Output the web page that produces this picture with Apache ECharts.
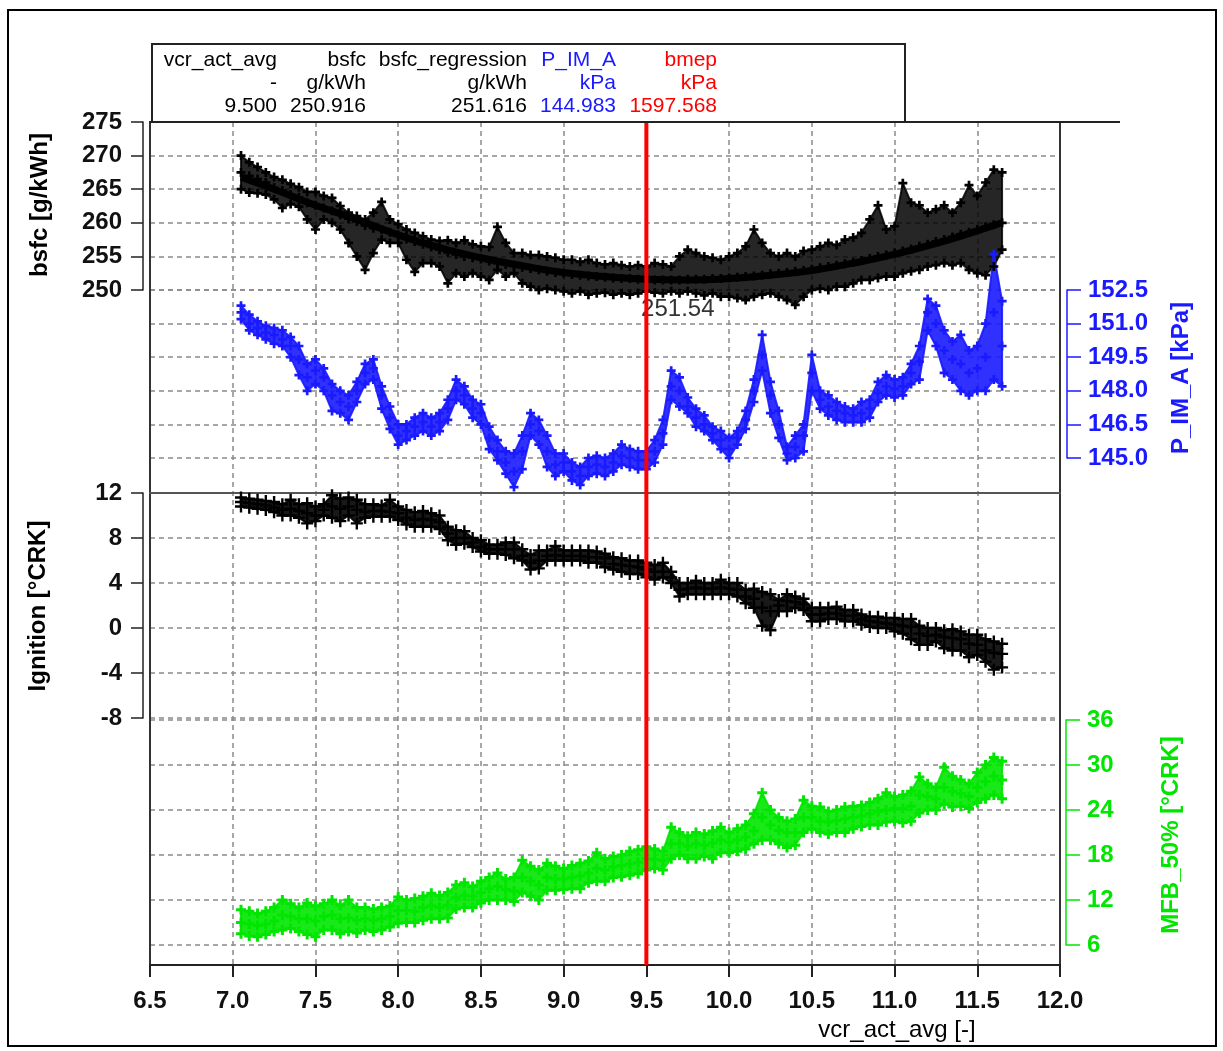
<!DOCTYPE html>
<html><head><meta charset="utf-8">
<script src="https://cdn.jsdelivr.net/npm/echarts@6/dist/echarts.min.js"></script>
<style>html,body{margin:0;padding:0;background:#fff;}#c{width:1223px;height:1051px;}</style>
</head><body><div id="c"></div>
<script>
// ---------- DATA ----------
const xs = [7.05,7.10,7.15,7.20,7.25,7.30,7.35,7.40,7.45,7.50,7.55,7.60,7.65,7.70,7.75,7.80,7.85,7.90,7.95,8.00,
8.05,8.10,8.15,8.20,8.25,8.30,8.35,8.40,8.45,8.50,8.55,8.60,8.65,8.70,8.75,8.80,8.85,8.90,8.95,9.00,
9.05,9.10,9.15,9.20,9.25,9.30,9.35,9.40,9.45,9.50,9.55,9.60,9.65,9.70,9.75,9.80,9.85,9.90,9.95,10.00,
10.05,10.10,10.15,10.20,10.25,10.30,10.35,10.40,10.45,10.50,10.55,10.60,10.65,10.70,10.75,10.80,10.85,10.90,10.95,11.00,
11.05,11.10,11.15,11.20,11.25,11.30,11.35,11.40,11.45,11.50,11.55,11.60,11.65];

const bsfcHi = [270.0,269.0,268.3,267.5,266.8,266.4,265.8,265.3,264.6,264.6,264.0,263.7,262.5,261.5,261.0,260.5,261.5,263.1,260.5,259.8,
259.0,258.5,258.0,257.5,257.3,257.4,257.0,257.4,256.8,256.5,256.4,259.4,257.0,255.5,255.5,255.2,255.2,255.0,254.8,254.5,
254.5,254.2,254.5,254.0,253.8,254.0,253.7,253.5,253.7,253.5,254.0,253.8,253.5,255.0,256.0,255.5,255.0,254.8,254.5,255.0,
255.5,256.5,259.0,257.0,255.5,255.0,255.5,255.0,255.8,256.0,256.5,257.0,256.7,257.5,257.8,258.5,260.5,262.6,259.0,259.5,
265.9,263.0,262.6,261.5,262.0,262.6,261.5,263.0,265.6,264.0,266.0,267.9,267.5];
const bsfcMid = [267.5,267.0,266.5,266.0,265.2,264.8,264.2,263.8,263.0,262.6,262.2,261.8,261.2,260.6,260.2,259.6,259.2,259.0,258.6,258.2,
257.6,257.2,256.8,256.4,256.0,255.6,255.3,255.0,254.8,254.6,254.3,254.0,253.8,253.6,253.4,253.2,253.0,252.8,252.6,252.5,
252.3,252.2,252.1,252.0,251.9,251.8,251.7,251.7,251.6,251.6,251.5,251.5,251.5,251.5,251.6,251.6,251.6,251.7,251.7,251.8,
251.9,252.0,252.1,252.2,252.4,252.5,252.6,252.8,252.9,253.1,253.3,253.5,253.7,253.9,254.1,254.4,254.7,255.0,255.2,255.5,
255.8,256.1,256.5,256.8,257.2,257.5,257.9,258.3,258.6,259.0,259.4,259.7,260.0];
const bsfcLo = [265.0,264.5,264.4,264.2,263.5,262.2,262.8,262.4,260.5,259.0,260.5,260.0,259.0,257.0,255.0,253.0,255.5,257.5,257.0,257.0,
254.5,252.7,254.0,254.0,253.5,251.0,252.5,252.0,252.5,252.0,251.5,253.0,252.0,252.5,251.0,250.5,250.0,250.2,250.0,249.8,
249.5,249.8,249.3,249.5,249.6,249.3,249.5,249.3,249.5,249.8,249.6,249.5,249.8,249.5,249.8,249.5,249.2,249.5,249.0,249.0,
248.8,248.5,249.0,249.3,249.5,249.0,248.5,247.8,249.0,250.0,250.2,250.0,250.5,250.5,251.0,251.5,251.5,251.8,252.0,252.0,
252.5,252.8,253.0,253.5,253.7,254.0,253.7,254.0,253.0,252.5,252.2,253.5,256.0];

const regX = [7.05,7.25,7.5,7.75,8.0,8.25,8.5,8.75,9.0,9.25,9.5,9.75,10.0,10.25,10.5,10.75,11.0,11.25,11.5,11.65];
const regY = [266.8,265.0,262.6,260.5,258.2,256.3,254.8,253.6,252.6,252.0,251.6,251.5,251.7,252.2,252.9,254.0,255.3,256.9,258.8,260.0];
const regMin = [9.69, 251.54];

const pimHi = [151.8,151.4,151.1,150.9,150.8,150.7,150.4,150.0,149.2,149.4,149.0,148.3,148.0,147.8,148.4,149.2,149.4,148.2,147.3,146.5,
146.5,146.8,147.0,146.8,147.0,147.6,148.5,148.2,147.6,147.4,146.4,145.8,145.3,145.2,146.0,147.0,146.7,146.0,145.2,145.2,
144.8,144.6,145.0,145.1,145.0,145.2,145.6,145.4,145.3,145.3,145.8,146.7,148.9,148.6,147.7,147.2,146.9,146.4,146.2,145.9,
146.2,147.1,148.5,150.5,148.4,147.1,145.5,146.0,146.5,149.6,148.0,147.8,147.5,147.3,147.2,147.5,147.6,148.4,148.7,148.5,
148.6,149.2,150.0,152.1,151.8,150.7,150.2,150.5,149.8,150.0,151.0,154.1,152.0];
const pimMid = [151.5,151.0,150.8,150.6,150.5,150.3,150.0,149.4,148.6,148.9,148.6,147.8,147.5,147.3,148.0,148.8,149.0,147.8,146.8,146.0,
146.2,146.4,146.6,146.4,146.6,147.2,148.0,147.8,147.2,147.0,145.9,145.3,144.8,144.4,145.3,146.5,146.2,145.3,144.7,144.8,
144.4,144.2,144.6,144.7,144.6,144.8,145.1,145.0,144.9,144.9,145.3,146.1,148.2,148.0,147.3,146.8,146.5,146.1,145.8,145.4,
145.9,146.7,148.0,149.6,147.8,146.5,145.2,145.5,146.0,148.8,147.6,147.3,147.1,147.0,146.9,147.0,147.2,147.9,148.2,148.1,
148.2,148.8,149.3,151.5,151.0,149.8,149.4,149.2,148.8,149.0,149.5,151.5,150.0];
const pimLo = [151.2,150.7,150.5,150.3,150.1,150.0,149.5,148.7,148.0,148.3,148.0,147.1,147.0,146.7,147.5,148.3,148.5,147.2,146.3,145.6,
145.8,146.0,146.2,146.0,146.2,146.7,147.6,147.4,146.8,146.5,145.4,144.9,144.3,143.7,144.5,146.0,145.6,144.6,144.2,144.4,
144.0,143.8,144.2,144.3,144.2,144.4,144.7,144.6,144.5,144.5,144.8,145.6,147.6,147.3,147.0,146.4,146.2,145.8,145.4,145.0,
145.6,146.3,147.5,148.9,147.0,145.9,144.9,145.0,145.3,148.0,147.2,146.9,146.7,146.6,146.6,146.6,146.8,147.5,147.8,147.7,
147.8,148.3,148.5,150.7,150.0,148.8,148.5,148.0,147.8,148.0,148.0,148.5,148.2];

const ignHi = [11.6,11.5,11.4,11.3,11.2,11.0,11.4,11.0,11.1,10.8,11.0,11.8,11.5,11.6,11.4,11.0,11.0,10.9,11.4,10.8,
10.5,10.3,10.4,10.2,10.0,9.0,8.7,8.6,8.0,7.8,7.4,7.4,7.6,7.6,7.0,6.5,6.9,6.9,7.3,6.9,
6.9,6.9,6.9,6.8,6.6,6.3,6.2,6.0,6.0,5.8,5.6,5.8,5.0,4.0,4.0,4.2,4.0,4.0,4.3,4.0,
4.0,3.4,3.5,3.2,3.0,2.5,3.0,2.8,2.6,1.8,1.8,1.8,1.9,1.6,1.6,1.2,1.0,1.0,0.9,0.9,
0.8,0.8,0.2,0.0,0.0,-0.2,-0.1,-0.3,-0.6,-0.6,-1.0,-1.2,-1.4];
const ignMid = [11.2,11.1,11.0,10.9,10.7,10.5,10.6,10.4,10.2,10.0,10.5,10.8,10.6,10.8,10.5,10.3,10.4,10.4,10.3,10.2,
9.8,9.6,9.7,9.6,9.4,8.4,8.0,8.0,7.6,7.2,7.0,7.0,7.0,7.0,6.4,5.8,6.0,6.4,6.5,6.4,
6.4,6.4,6.3,6.3,6.2,5.7,5.6,5.5,5.4,5.2,5.0,5.0,4.5,3.4,3.5,3.6,3.5,3.5,3.6,3.5,
3.4,2.8,2.6,1.8,1.5,2.0,2.4,2.3,2.1,1.2,1.2,1.3,1.3,1.1,1.1,0.8,0.6,0.5,0.4,0.3,
0.2,0.1,-0.5,-0.7,-0.6,-0.8,-0.9,-1.0,-1.4,-1.5,-2.0,-2.2,-2.3];
const ignLo = [10.8,10.7,10.6,10.5,10.3,10.0,10.0,9.8,9.3,9.5,10.0,9.8,9.5,10.0,9.3,9.8,9.9,9.9,9.9,9.6,
9.2,9.0,9.0,9.0,8.8,7.8,7.4,7.5,7.2,6.8,6.6,6.6,6.5,6.2,6.0,5.2,5.3,6.0,6.0,6.0,
6.0,6.0,5.8,5.8,5.4,5.2,5.0,4.8,4.8,4.5,4.3,4.5,4.0,2.8,3.0,3.0,3.0,3.0,3.0,3.0,
2.8,2.2,1.8,0.2,-0.2,1.5,1.5,1.8,1.6,0.6,0.6,0.8,0.8,0.6,0.6,0.3,0.1,0.0,0.0,-0.3,
-0.5,-1.0,-1.5,-1.5,-1.2,-1.8,-2.0,-2.0,-2.6,-2.4,-3.0,-3.7,-3.5];

const mfbHi = [10.7,10.5,10.2,10.5,11.0,12.0,11.5,11.0,11.6,11.2,11.5,12.0,11.3,12.0,11.0,11.0,10.8,11.0,11.2,12.4,
12.0,12.2,12.5,12.9,12.6,13.0,14.0,14.3,13.8,14.5,15.0,15.6,14.8,15.0,17.3,16.5,16.0,16.9,16.5,16.2,
16.6,16.9,17.2,18.3,17.5,17.8,18.0,18.5,18.7,19.1,18.8,18.5,21.7,21.0,20.5,21.0,20.8,21.2,21.7,21.0,
21.5,22.0,23.5,26.3,24.0,23.0,22.5,22.8,25.3,24.5,24.4,23.8,24.0,24.4,24.5,24.6,25.0,25.5,26.3,25.8,
26.0,26.5,28.4,27.5,27.0,29.7,28.5,28.0,27.5,29.0,30.0,31.0,30.5];
const mfbMid = [9.0,8.8,8.6,8.8,9.2,10.0,9.8,9.5,9.5,9.2,9.8,10.0,9.5,9.6,9.3,9.5,9.3,9.5,9.8,10.6,
10.6,10.5,11.0,11.2,11.0,11.3,12.3,12.6,12.5,13.0,13.5,13.8,13.4,13.2,15.0,14.5,14.0,15.0,14.8,14.8,
15.0,15.2,15.6,16.2,16.0,16.4,16.6,16.8,17.0,17.5,17.4,17.3,19.5,19.5,19.2,19.5,19.3,19.6,20.0,19.7,
20.0,20.4,21.2,23.0,22.0,21.3,21.0,21.0,23.0,23.0,22.5,22.4,22.6,22.8,23.0,23.2,23.5,23.8,24.0,24.2,
24.2,24.5,26.0,25.8,25.5,27.0,26.5,26.2,25.8,27.0,27.8,28.5,28.0];
const mfbLo = [7.5,7.2,7.1,7.4,7.8,8.0,8.2,7.8,7.4,7.1,8.0,8.0,7.5,7.8,7.6,8.0,7.8,8.0,8.4,8.9,
9.0,9.0,9.3,9.5,9.5,9.6,10.8,11.0,11.0,11.6,12.0,12.0,12.0,11.8,13.0,12.5,12.0,13.3,13.3,13.4,
13.5,13.5,14.3,14.5,14.5,15.0,15.1,15.3,15.5,16.0,16.2,16.0,17.5,18.0,17.5,17.5,17.8,17.5,18.3,18.3,
18.5,18.8,19.5,20.0,20.0,19.5,19.0,19.3,21.0,21.5,21.0,20.8,21.0,21.0,21.5,21.8,22.0,22.0,22.4,22.5,
22.3,22.5,23.6,24.0,24.0,24.8,24.4,24.5,24.2,25.0,25.5,26.0,25.5];

const cursorX = 9.5;
const header = [
  ['vcr_act_avg', '-', '9.500'],
  ['bsfc', 'g/kWh', '250.916'],
  ['bsfc_regression', 'g/kWh', '251.616'],
  ['P_IM_A', 'kPa', '144.983'],
  ['bmep', 'kPa', '1597.568']
];

// ---------- STYLE ----------
const BLUE = '#1a1aff', GREEN = '#00e600', RED = '#ff0000', BLK = '#000';
const FONT = 'Liberation Sans, Arial, sans-serif';
const PLUS = 'path://M3.5,0H6.5V3.5H10V6.5H6.5V10H3.5V6.5H0V3.5H3.5Z';
const PLUS2 = 'path://M4,0H6V4H10V6H6V10H4V6H0V4H4Z';
const pts = (xa, ya) => xa.map((x, i) => [x, ya[i]]);
const dash = {show: true, lineStyle: {type: [5, 4], color: '#8a8a8a', width: 1.5}};
const L = 150, W = 910;

const hiddenX = (gi, extra) => Object.assign({gridIndex: gi, type: 'value', min: 6.5, max: 12, interval: 0.5,
  axisLabel: {show: false}, axisTick: {show: false}, splitLine: {show: false},
  axisLine: {show: false, onZero: false}}, extra || {});

const yLabel = (color) => ({fontSize: 24, fontWeight: 'bold', color: color, fontFamily: FONT, margin: 21});

// a cloud = dense core between the read lower and upper envelopes + '+' marks at lo/mid/hi
const cloud = (gi, hi, mid, lo, color, sym, size, bandOpacity) => ([
  {type: 'custom', xAxisIndex: gi, yAxisIndex: gi, coordinateSystem: 'cartesian2d', silent: true, z: 2,
    clip: false, data: [[xs[0], lo[0]]],
    renderItem: (params, api) => {
      const top = xs.map((x, i) => api.coord([x, hi[i]]));
      const bot = xs.map((x, i) => api.coord([x, lo[i]])).reverse();
      return {type: 'polygon', shape: {points: top.concat(bot)},
        style: {fill: color, opacity: bandOpacity, stroke: color, lineWidth: 2}};
    }},
  {type: 'scatter', xAxisIndex: gi, yAxisIndex: gi, clip: false, symbol: sym, symbolSize: size,
    itemStyle: {color: color, opacity: 1}, z: 3, silent: true,
    data: [].concat(pts(xs, hi), pts(xs, mid), pts(xs, lo))}
]);

const chart = echarts.init(document.getElementById('c'), null, {renderer: 'canvas'});
const headerCols = [277, 366, 527, 616, 717];
const headerColors = [BLK, BLK, BLK, BLUE, RED];
const gfx = [
  {type: 'rect', shape: {x: 8, y: 10, width: 1208, height: 1036}, style: {fill: 'none', stroke: '#000', lineWidth: 2}, z: 0},
  {type: 'line', shape: {x1: 1060, y1: 122, x2: 1120, y2: 122}, style: {stroke: '#222', lineWidth: 2}, z: 5},
  {type: 'rect', shape: {x: 152, y: 44, width: 753, height: 78}, style: {fill: '#fff', stroke: '#222', lineWidth: 2}, z: 10}
];
header.forEach((col, ci) => {
  col.forEach((t, ri) => {
    gfx.push({type: 'text', x: headerCols[ci], y: 60 + ri * 23, z: 11,
      style: {text: t, fill: headerColors[ci], font: '21px ' + FONT, textAlign: 'right', textVerticalAlign: 'middle'}});
  });
});
const rotText = (t, x, y, color) => ({type: 'text', x: x, y: y, rotation: Math.PI / 2, z: 11,
  style: {text: t, fill: color, font: 'bold 24px ' + FONT, textAlign: 'center', textVerticalAlign: 'middle'}});
gfx.push(rotText('bsfc [g/kWh]', 40, 205, BLK));
gfx.push(rotText('Ignition [°CRK]', 38, 606, BLK));
gfx.push(rotText('P_IM_A [kPa]', 1181, 378, BLUE));
gfx.push(rotText('MFB_50% [°CRK]', 1171, 835, GREEN));
gfx.push({type: 'text', x: 897, y: 1030, z: 11,
  style: {text: 'vcr_act_avg [-]', fill: BLK, font: '24px ' + FONT, textAlign: 'center', textVerticalAlign: 'middle'}});

const option = {
  animation: false,
  backgroundColor: '#fff',
  grid: [
    {left: L, width: W, top: 122, height: 168},
    {left: L, width: W, top: 290, height: 168},
    {left: L, width: W, top: 493, height: 225},
    {left: L, width: W, top: 720, height: 225},
    {left: L, width: W, top: 122, height: 843}
  ],
  xAxis: [
    hiddenX(0, {position: 'top', axisLine: {show: true, onZero: false, lineStyle: {color: '#222', width: 2}}}),
    hiddenX(1),
    hiddenX(2, {position: 'top', axisLine: {show: true, onZero: false, lineStyle: {color: '#555', width: 2}}}),
    hiddenX(3),
    {gridIndex: 4, type: 'value', min: 6.5, max: 12, interval: 0.5, position: 'bottom',
      axisLine: {show: true, onZero: false, lineStyle: {color: '#222', width: 2}},
      axisTick: {show: true, length: 12, lineStyle: {color: '#222', width: 2}},
      axisLabel: {fontSize: 24, fontWeight: 'bold', color: '#111', fontFamily: FONT, margin: 24,
        formatter: v => v.toFixed(1)},
      splitLine: dash}
  ],
  yAxis: [
    {gridIndex: 0, type: 'value', min: 250, max: 275, interval: 5, position: 'left', offset: 7,
      axisLine: {show: true, onZero: false, lineStyle: {color: '#222', width: 1.5}},
      axisTick: {show: true, length: 12, lineStyle: {color: '#222', width: 1.5}},
      axisLabel: yLabel('#111'), splitLine: dash},
    {gridIndex: 1, type: 'value', min: 145, max: 152.5, interval: 1.5, position: 'right', offset: 7,
      axisLine: {show: true, onZero: false, lineStyle: {color: BLUE, width: 1.5}},
      axisTick: {show: true, length: 14, lineStyle: {color: BLUE, width: 1.5}},
      axisLabel: Object.assign(yLabel(BLUE), {formatter: v => v.toFixed(1)}), splitLine: dash},
    {gridIndex: 2, type: 'value', min: -8, max: 12, interval: 4, position: 'left', offset: 7,
      axisLine: {show: true, onZero: false, lineStyle: {color: '#222', width: 1.5}},
      axisTick: {show: true, length: 12, lineStyle: {color: '#222', width: 1.5}},
      axisLabel: yLabel('#111'), splitLine: dash},
    {gridIndex: 3, type: 'value', min: 6, max: 36, interval: 6, position: 'right', offset: 6,
      axisLine: {show: true, onZero: false, lineStyle: {color: GREEN, width: 1.5}},
      axisTick: {show: true, length: 14, lineStyle: {color: GREEN, width: 1.5}},
      axisLabel: yLabel(GREEN), splitLine: dash},
    {gridIndex: 4, type: 'value', min: 0, max: 1, position: 'left',
      axisLine: {show: true, onZero: false, lineStyle: {color: '#333', width: 2}}, axisTick: {show: false},
      axisLabel: {show: false}, splitLine: {show: false}},
    {gridIndex: 4, type: 'value', min: 0, max: 1, position: 'right',
      axisLine: {show: true, onZero: false, lineStyle: {color: '#333', width: 2}}, axisTick: {show: false},
      axisLabel: {show: false}, splitLine: {show: false}}
  ],
  series: [].concat(
    cloud(0, bsfcHi, bsfcMid, bsfcLo, BLK, PLUS, 9, 0.85),
    [{type: 'line', xAxisIndex: 0, yAxisIndex: 0, clip: false, smooth: true, showSymbol: false, symbol: 'none',
      lineStyle: {color: BLK, width: 7}, z: 4, data: pts(regX, regY), silent: true,
      markPoint: {symbol: 'circle', symbolSize: 0, silent: true,
        data: [{coord: regMin, label: {show: true, formatter: '251.54', fontSize: 24, color: '#333',
          fontFamily: FONT, offset: [0, 30]}}]}}],
    cloud(1, pimHi, pimMid, pimLo, BLUE, PLUS, 9, 0.9),
    cloud(2, ignHi, ignMid, ignLo, BLK, PLUS2, 12, 0.9),
    cloud(3, mfbHi, mfbMid, mfbLo, GREEN, PLUS, 10, 0.9),
    [{type: 'line', xAxisIndex: 4, yAxisIndex: 4, showSymbol: false, symbol: 'none', z: 8, silent: true,
      lineStyle: {color: RED, width: 4}, data: [[cursorX, 0], [cursorX, 1]]}]
  ),
  graphic: gfx
};
chart.setOption(option);
</script></body></html>
